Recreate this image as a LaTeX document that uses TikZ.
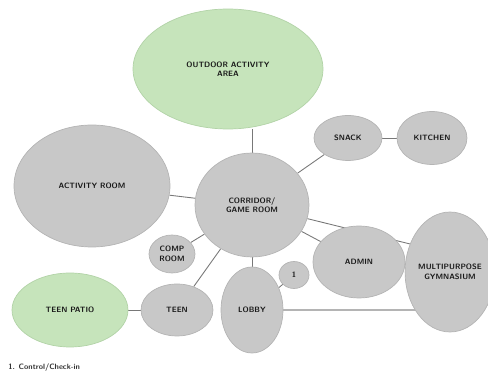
\documentclass[tikz,border=0pt]{standalone}
\usepackage{tikz}
\usetikzlibrary{shapes.geometric,backgrounds}
\definecolor{room gray}{rgb}{0.7843, 0.7843, 0.7843}
\definecolor{room edge}{rgb}{0.7059, 0.7059, 0.7059}
\definecolor{patio green}{rgb}{0.7765, 0.8941, 0.7333}
\definecolor{patio edge}{rgb}{0.6980, 0.8275, 0.6549}
\definecolor{link gray}{rgb}{0.4706, 0.4706, 0.4706}

\tikzset{
	room/.style = {ellipse, draw = room edge, fill = room gray, inner sep = 0pt,
		align = center, text = black!90, font = \sffamily\bfseries\fontsize{4.4}{5.4}\selectfont},
	outside/.style = {room, draw = patio edge, fill = patio green},
	link/.style = {link gray, line width = 0.5pt}
}

\begin{document}
\begin{tikzpicture}[x = 0.02cm, y = -0.02cm]
			\useasboundingbox (0, 0) rectangle (488, 381);
			% green areas
			\node[outside, minimum width = 3.8cm, minimum height = 2.4cm] (outdoor) at (228, 69) {OUTDOOR ACTIVITY\\AREA};
			\node[outside, minimum width = 2.32cm, minimum height = 1.48cm] (patio) at (70, 310) {TEEN PATIO};
			% rooms
			\node[room, minimum width = 3.12cm, minimum height = 2.44cm] (activity) at (92, 186) {ACTIVITY ROOM};
			\node[room, minimum width = 2.28cm, minimum height = 2.08cm] (common) at (252, 205) {CORRIDOR/\\GAME ROOM};
			\node[room, minimum width = 1.36cm, minimum height = 0.9cm] (snack) at (348, 138) {SNACK};
			\node[room, minimum width = 1.4cm, minimum height = 1.06cm] (kitchen) at (432, 138) {KITCHEN};
			\node[room, minimum width = 1.84cm, minimum height = 1.44cm] (admin) at (359, 262) {ADMIN};
			\node[room, minimum width = 1.7cm, minimum height = 2.4cm] (gym) at (450, 272) {MULTIPURPOSE\\GYMNASIUM};
			\node[room, minimum width = 0.92cm, minimum height = 0.76cm] (comp) at (172, 254) {COMP\\ROOM};
			\node[room, minimum width = 1.44cm, minimum height = 1.04cm] (teen) at (177, 310) {TEEN};
			\node[room, minimum width = 1.24cm, minimum height = 1.72cm] (lobby) at (252, 310) {LOBBY};
			\node[room, minimum width = 0.6cm, minimum height = 0.54cm] (check) at (294, 275) {1};
			% note
			\node[anchor = west, inner sep = 0pt, text = black!80,
				font = \sffamily\bfseries\fontsize{4.4}{5}\selectfont] (note) at (8, 368) {1. Control/Check-in};
			% connectors, behind the rooms
			\begin{scope}[on background layer]
				\draw[link] (common.north) -- (common.north |- outdoor.south);
				\draw[link] (activity) -- (common);
				\draw[link] (common) -- (snack);
				\draw[link] (snack) -- (kitchen);
				\draw[link] (common) -- (gym.145);
				\draw[link] (common) -- (admin);
				\draw[link] (common) -- (comp);
				\draw[link] (common) -- (teen);
				\draw[link] (common) -- (lobby);
				\draw[link] (lobby) -- (check);
				\draw[link] (patio) -- (teen);
				\draw[room edge, line width = 1.6pt] (lobby.east) -- (lobby.east -| gym.center);
			\end{scope}
		\end{tikzpicture}
\end{document}
